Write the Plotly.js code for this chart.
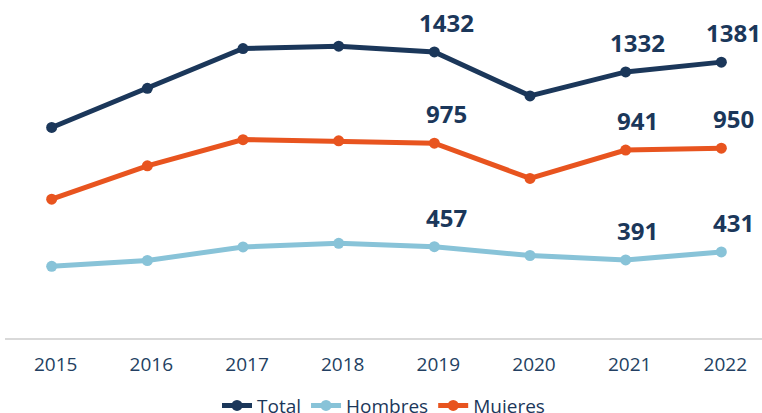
<!DOCTYPE html>
<html>
<head>
<meta charset="utf-8">
<script src="https://cdn.plot.ly/plotly-3.0.1.min.js"></script>
<style>html,body{margin:0;padding:0;background:#fff;}#chart{width:762px;height:413px;}</style>
</head>
<body>
<div id="chart"></div>
<script>
const years = [2015, 2016, 2017, 2018, 2019, 2020, 2021, 2022];
const total = [1054, 1250, 1449, 1461, 1432, 1212, 1332, 1381];
const hombres = [359, 388, 456, 474, 457, 413, 391, 431];
const mujeres = [695, 862, 993, 987, 975, 799, 941, 950];
const labelYears = [2019, 2021, 2022];

const cTotal = '#1b375a', cHom = '#88c3d8', cMuj = '#e8541f';
const txt = '#1b375a';

function mk(name, y, color) {
  return {
    x: years, y: y, name: name, type: 'scatter', mode: 'lines+markers',
    line: {color: color, width: 5},
    marker: {color: color, size: 11}
  };
}
const traces = [mk('Total', total, cTotal), mk('Hombres', hombres, cHom), mk('Mujeres', mujeres, cMuj)];

const annotations = [];
[total, mujeres, hombres].forEach(series => {
  labelYears.forEach(yr => {
    const i = years.indexOf(yr);
    annotations.push({
      x: yr, y: series[i], text: String(series[i]), showarrow: false,
      xref: 'x', yref: 'y', xanchor: 'center', yanchor: 'middle',
      xshift: 12, yshift: 29.5,
      font: {family: 'Open Sans', size: 24, color: txt, weight: 700}
    });
  });
});

const layout = {
  width: 762, height: 413,
  margin: {l: 5, r: 0, t: 0, b: 75, autoexpand: false},
  paper_bgcolor: '#fff', plot_bgcolor: '#fff',
  showlegend: true,
  legend: {orientation: 'h', x: 0.5, xanchor: 'center', y: -0.2, yanchor: 'middle',
    font: {family: 'Open Sans', size: 19, color: txt}, itemwidth: 30, tracegroupgap: 0},
  xaxis: {
    range: [2014.512, 2022.425], tickvals: years, ticktext: years.map(String),
    showgrid: false, zeroline: false, showline: true, linecolor: '#d9d9d9', linewidth: 2,
    ticks: '', ticklabelstandoff: 8, ticklabelshift: 4,
    tickfont: {family: 'Open Sans', size: 19, color: '#233f62'}, fixedrange: true
  },
  yaxis: {range: [0, 1692], visible: false, showgrid: false, zeroline: false, fixedrange: true},
  annotations: annotations
};

Plotly.newPlot('chart', traces, layout, {displayModeBar: false, staticPlot: true});
</script>
</body>
</html>
